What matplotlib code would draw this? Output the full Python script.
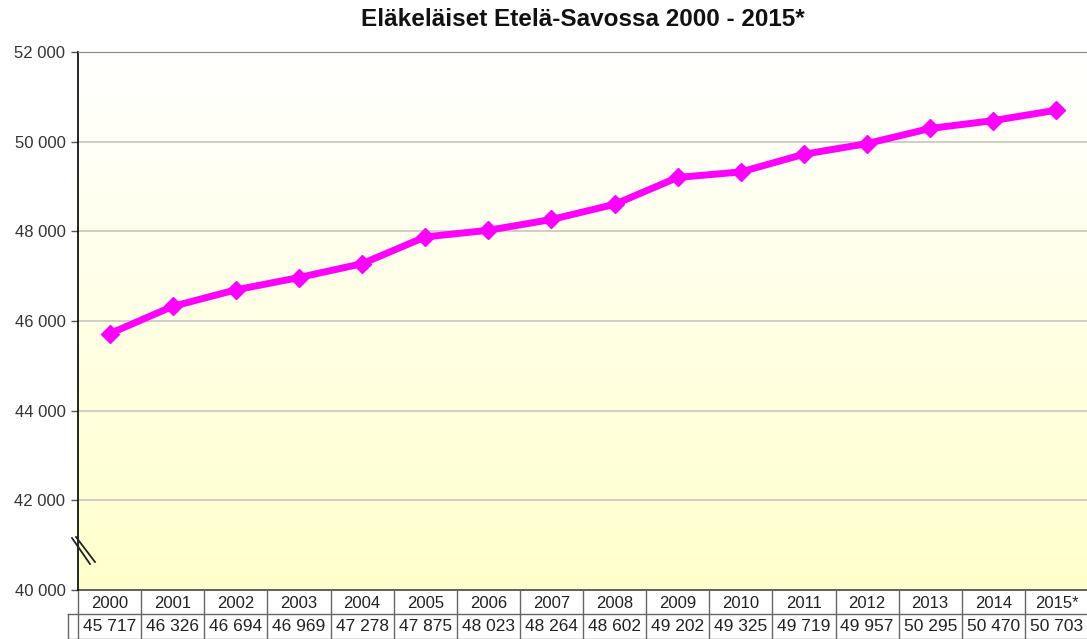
import numpy as np
import matplotlib
matplotlib.use("Agg")
from matplotlib import pyplot as plt
from matplotlib.lines import Line2D

years = ["2000", "2001", "2002", "2003", "2004", "2005", "2006", "2007",
         "2008", "2009", "2010", "2011", "2012", "2013", "2014", "2015*"]
pensioners = [45717, 46326, 46694, 46969, 47278, 47875, 48023, 48264,
              48602, 49202, 49325, 49719, 49957, 50295, 50470, 50703]
y_ticks = [40000, 42000, 44000, 46000, 48000, 50000, 52000]

plt.rcParams['font.family'] = ['Liberation Sans', 'DejaVu Sans']


def fmt(v):
    return "{:,}".format(v).replace(",", " ")


fig = plt.figure(figsize=(10.87, 6.39), dpi=100)
W, H = 1087.0, 639.0
ax = fig.add_axes([78 / W, (H - 590) / H, (1088 - 78) / W, (590 - 52) / H])

x = np.arange(len(years))
n = len(years)

# background gradient white (top) -> pale yellow (bottom)
grad = np.linspace(0, 1, 256).reshape(-1, 1)
top = np.array([1.0, 1.0, 1.0])
bot = np.array([1.0, 1.0, 0.80])
img = top + (bot - top) * grad[..., None]
ax.imshow(img, extent=[-0.5, n - 0.5, 40000, 52000], aspect="auto", zorder=0)
ax.set_xlim(-0.5, n - 0.5)
ax.set_ylim(40000, 52000)

for t in y_ticks[1:-1]:
    ax.axhline(t, color="#c6c6bf", linewidth=1.2, zorder=1)

ax.plot(x, pensioners, color="#ff00ff", linewidth=5, marker="D", markersize=9.5,
        zorder=3, solid_joinstyle="round")

ax.set_yticks(y_ticks)
ax.set_yticklabels([fmt(t) for t in y_ticks], fontsize=12, color="#333333")
ax.tick_params(axis="y", length=5, width=1, color="#555555", pad=4)
ax.set_xticks([])

for s in ["right", "bottom"]:
    ax.spines[s].set_visible(False)
ax.spines["top"].set_color("#888888")
ax.spines["left"].set_color("#000000")
ax.spines["left"].set_linewidth(1.2)

# axis break marks (pixel coords)
for (x0, y0, x1, y1) in [(72, 538, 90, 564), (76, 537, 95, 562)]:
    fig.add_artist(Line2D([x0 / W, x1 / W], [1 - y0 / H, 1 - y1 / H],
                          transform=fig.transFigure, color="#222222",
                          linewidth=1.3, zorder=6))

# data table below the axis
trans = ax.get_xaxis_transform()
r1 = -24 / 538.0
r2 = -49 / 538.0
r3 = -75 / 538.0
lc = "#666666"
ax.plot([-0.5, n - 0.5], [0, 0], transform=trans, color="#444444",
        linewidth=1.2, clip_on=False)
ax.plot([-0.66, n - 0.5], [r1, r1], transform=trans, color=lc,
        linewidth=1, clip_on=False)
ax.plot([-0.66, n - 0.5], [r2, r2], transform=trans, color=lc,
        linewidth=1, clip_on=False)
ax.plot([-0.66, -0.66], [r1, r3], transform=trans, color=lc, linewidth=1, clip_on=False)
for i in range(n + 1):
    ax.plot([i - 0.5, i - 0.5], [0, r3], transform=trans, color=lc,
            linewidth=1, clip_on=False)
for i, (yr, v) in enumerate(zip(years, pensioners)):
    ax.text(i, r1 / 2 - 0.003, yr, transform=trans, ha="center", va="center",
            fontsize=12, color="#222222")
    ax.text(i, (r1 + r2) / 2, fmt(v), transform=trans, ha="center", va="center",
            fontsize=12.5, color="#222222")

fig.text(583 / W, 1 - 20 / H, "Eläkeläiset Etelä-Savossa 2000 - 2015*",
         ha="center", va="center", fontsize=17.5, fontweight="bold", color="#111111")

fig.savefig("out.png", dpi=100)
